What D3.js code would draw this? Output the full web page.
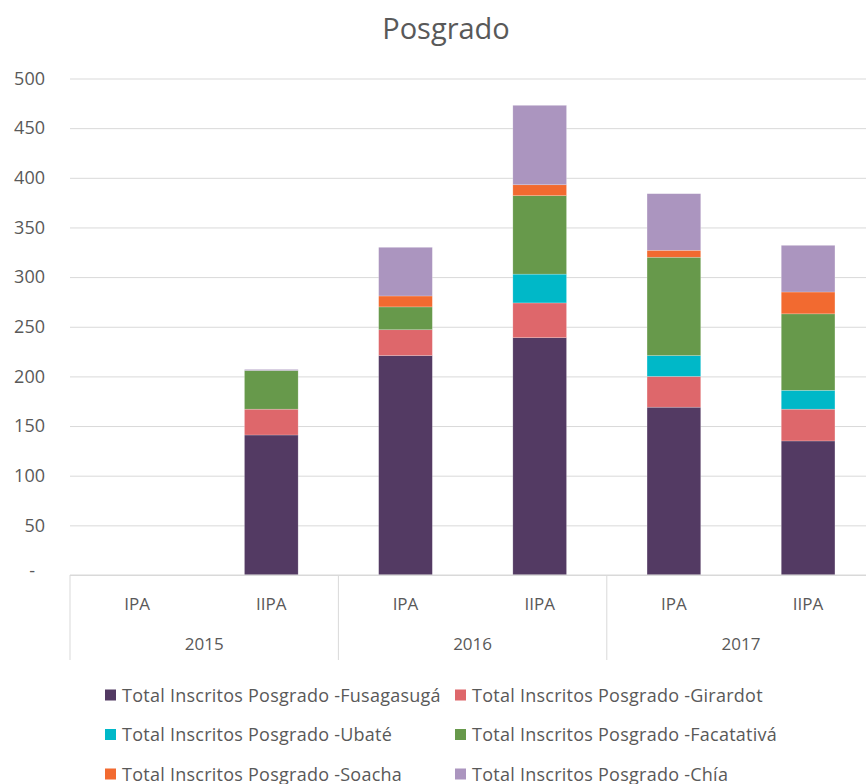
<!DOCTYPE html>
<html>
<head>
<meta charset="utf-8">
<script src="https://cdn.jsdelivr.net/npm/d3@7"></script>
<style>
body { margin: 0; background: #fff; }
text { font-family: "Open Sans", sans-serif; fill: #595959; }
</style>
</head>
<body>
<div id="chart"></div>
<script>
var years = ['2015', '2016', '2017'];
var periods = ['IPA', 'IIPA'];
var seriesNames = [
	'Total Inscritos Posgrado -Fusagasugá',
	'Total Inscritos Posgrado -Girardot',
	'Total Inscritos Posgrado -Ubaté',
	'Total Inscritos Posgrado -Facatativá',
	'Total Inscritos Posgrado -Soacha',
	'Total Inscritos Posgrado -Chía'
];
var fusagasuga = [0, 141, 221, 239, 169, 135];
var girardot   = [0, 26, 26, 35, 31, 32];
var ubate      = [0, 0, 0, 29, 21, 19];
var facatativa = [0, 39, 23, 79, 99, 77];
var soacha     = [0, 0, 11, 11, 7, 22];
var chia       = [0, 1, 49, 80, 57, 47];
var yTicks = [0, 50, 100, 150, 200, 250, 300, 350, 400, 450, 500];
var colors = ['#533a63', '#de676b', '#00b8c8', '#67994b', '#f26a30', '#ab95bf'];

var width = 866, height = 784;
var left = 70, catW = 134.2, y0 = 575, yTop = 78.5;

// categories: year x period
var cats = [];
years.forEach(function (y) {
	periods.forEach(function (p) { cats.push({ year: y, period: p }); });
});
var keys = ['f', 'g', 'u', 'fa', 's', 'c'];
var rows = cats.map(function (c, i) {
	return { i: i, f: fusagasuga[i], g: girardot[i], u: ubate[i], fa: facatativa[i], s: soacha[i], c: chia[i] };
});

var svg = d3.select('#chart').append('svg')
	.attr('width', width).attr('height', height);

var x_scale = d3.scaleBand()
	.domain(d3.range(cats.length))
	.range([left, left + catW * cats.length]);
var year_scale = d3.scaleBand()
	.domain(years)
	.range([left, left + catW * cats.length]);
var y_scale = d3.scaleLinear().domain([0, 500]).range([y0, yTop]);

// title
svg.append('text')
	.attr('x', 446).attr('y', 39)
	.attr('text-anchor', 'middle')
	.style('font-size', '29px')
	.text('Posgrado');

// gridlines + y labels
var yAxis = svg.append('g')
	.attr('transform', 'translate(' + left + ',0)')
	.call(d3.axisLeft(y_scale).tickValues(yTicks)
		.tickSize(-(width - left))
		.tickFormat(function (d) { return d === 0 ? '-' : d; }));
yAxis.select('.domain').remove();
yAxis.selectAll('line').attr('stroke', '#d9d9d9');
yAxis.selectAll('text')
	.attr('x', -25)
	.style('font-size', '18px')
	.style('font-family', '"Open Sans", sans-serif')
	.attr('fill', '#595959');
yAxis.selectAll('.tick').filter(function (d) { return d === 0; })
	.select('text').attr('x', -35).attr('dy', '0.1em');

// stacked bars
var stack = d3.stack().keys(keys);
var layers = stack(rows);
var barW = x_scale.bandwidth() * 0.4;
svg.selectAll('g.layer')
	.data(layers)
	.enter().append('g')
	.attr('class', 'layer')
	.attr('fill', function (d, i) { return colors[i]; })
	.selectAll('rect')
	.data(function (d) { return d; })
	.enter().append('rect')
	.attr('x', function (d, i) { return x_scale(i) + (x_scale.bandwidth() - barW) / 2; })
	.attr('width', barW)
	.attr('y', function (d) { return y_scale(d[1]); })
	.attr('height', function (d) { return y_scale(d[0]) - y_scale(d[1]); })
	.attr('stroke', 'rgba(255,255,255,0.35)')
	.attr('stroke-width', 0.6);

// category axis
svg.append('line')
	.attr('x1', left).attr('x2', width)
	.attr('y1', y0).attr('y2', y0)
	.attr('stroke', '#d9d9d9');
svg.selectAll('line.sep')
	.data(years.concat(['end']))
	.enter().append('line')
	.attr('class', 'sep')
	.attr('x1', function (d, i) { return left + i * catW * 2; })
	.attr('x2', function (d, i) { return left + i * catW * 2; })
	.attr('y1', y0).attr('y2', 660)
	.attr('stroke', '#d9d9d9');
svg.selectAll('text.period')
	.data(cats)
	.enter().append('text')
	.attr('class', 'period')
	.attr('x', function (d, i) { return x_scale(i) + x_scale.bandwidth() / 2; })
	.attr('y', 610)
	.attr('text-anchor', 'middle')
	.style('font-size', '17px')
	.text(function (d) { return d.period; });
svg.selectAll('text.year')
	.data(years)
	.enter().append('text')
	.attr('class', 'year')
	.attr('x', function (d) { return year_scale(d) + year_scale.bandwidth() / 2; })
	.attr('y', 650)
	.attr('text-anchor', 'middle')
	.style('font-size', '17px')
	.text(function (d) { return d; });

// legend
var legend = svg.selectAll('g.legend')
	.data(seriesNames)
	.enter().append('g')
	.attr('class', 'legend')
	.attr('transform', function (d, i) {
		return 'translate(' + (i % 2 === 0 ? 105 : 455) + ',' + (695 + Math.floor(i / 2) * 39.5) + ')';
	});
legend.append('rect')
	.attr('x', 0).attr('y', -5.5)
	.attr('width', 11).attr('height', 11)
	.attr('fill', function (d, i) { return colors[i]; });
legend.append('text')
	.attr('x', 17).attr('y', 6.5)
	.style('font-size', '18px')
	.style('letter-spacing', '0.25px')
	.text(function (d) { return d; });
</script>
</body>
</html>
